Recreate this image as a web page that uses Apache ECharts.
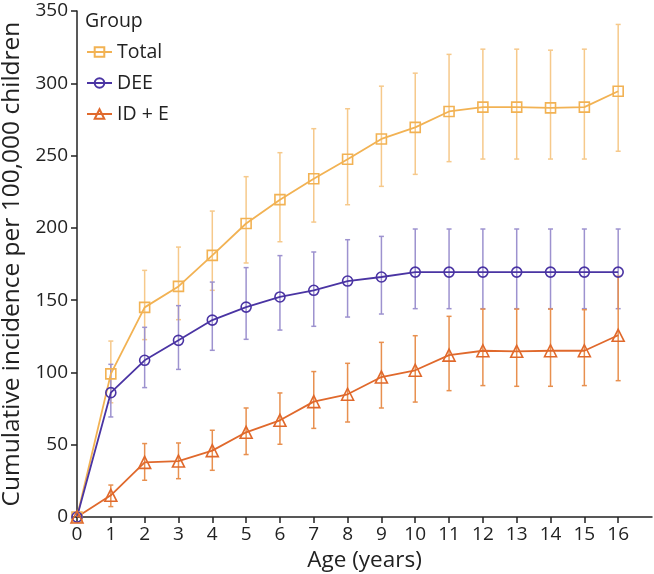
<!DOCTYPE html>
<html>
<head>
<meta charset="utf-8">
<script src="https://cdn.jsdelivr.net/npm/echarts@6/dist/echarts.min.js"></script>
<style>html,body{margin:0;padding:0;background:#fff}#c{width:654px;height:574px}</style>
</head>
<body>
<div id="c"></div>
<script>
const ages = [0,1,2,3,4,5,6,7,8,9,10,11,12,13,14,15,16];
const xTicks = [0,1,2,3,4,5,6,7,8,9,10,11,12,13,14,15,16];
const yTicks = [0,50,100,150,200,250,300,350];

const totalVals = [0,99,145,159.5,181,203,219.5,234,247.5,261.5,269.5,280.5,283.5,283.5,283,283.5,294.5];
const totalLow  = [0,79,122.7,136.5,156.8,175.7,190.4,204,216,228.7,237,245.8,247.6,247.6,247.6,247.6,253];
const totalHigh = [0,121.7,170.6,186.7,211.6,235.4,252,268.6,282.4,298,307,320,323.6,323.6,322.9,323.6,340.7];

const deeVals = [0,86,108.4,122.2,136.2,145.2,152.2,156.8,163.2,166,169.4,169.4,169.4,169.4,169.4,169.4,169.4];
const deeLow  = [0,69.2,89.5,102.1,115.3,122.9,129.3,131.9,138.3,140.4,144.1,144.1,144.1,144.1,144.1,144.1,144.1];
const deeHigh = [0,105.6,131.2,146.2,162.5,172.5,180.8,183.3,191.8,194.1,199.2,199.2,199.2,199.2,199.2,199.2,199.2];

const ideVals = [0,15,37.8,38.7,45.9,58.6,66.9,79.8,84.9,96.8,101.5,112,115,114.6,115,115,125.7];
const ideLow  = [0,7.2,25.4,26.5,32.3,43.2,50.3,61.3,65.7,75.4,79.5,87.4,90.9,90.4,90.4,90.9,94.3];
const ideHigh = [0,22.1,50.8,51.2,60,75.4,85.8,100.6,106.3,120.8,125.4,138.8,143.8,143.8,143.8,143.4,166.5];

const seriesNames = ['Total','DEE','ID + E'];
const lineColors = ['#F2B253','#4A34A3','#E0692C'];
const barColors = ['#F6C98B','#9D92CF','#E8904F'];
const symbols = ['rect','circle','triangle'];
const symbolSizes = [10,10,12];

const vals = [totalVals, deeVals, ideVals];
const lows = [totalLow, deeLow, ideLow];
const highs = [totalHigh, deeHigh, ideHigh];

const FONT = '"Open Sans", "Noto Sans", sans-serif';

function errSeries(k) {
  const color = barColors[k];
  return {
    type: 'custom',
    name: seriesNames[k] + ' err',
    z: 1,
    silent: true,
    data: ages.map((a, i) => [a, lows[k][i], highs[k][i]]).filter(d => d[2] > d[1]),
    renderItem: function (params, api) {
      const x = api.value(0);
      const p1 = api.coord([x, api.value(1)]);
      const p2 = api.coord([x, api.value(2)]);
      const w = 2.5;
      const st = { stroke: color, lineWidth: 1.5 };
      return {
        type: 'group',
        children: [
          { type: 'line', shape: { x1: p1[0], y1: p1[1], x2: p2[0], y2: p2[1] }, style: st },
          { type: 'line', shape: { x1: p1[0] - w, y1: p1[1], x2: p1[0] + w, y2: p1[1] }, style: st },
          { type: 'line', shape: { x1: p2[0] - w, y1: p2[1], x2: p2[0] + w, y2: p2[1] }, style: st }
        ]
      };
    }
  };
}

function lineSeries(k) {
  return {
    type: 'line',
    name: seriesNames[k],
    z: 3,
    data: ages.map((a, i) => [a, vals[k][i]]),
    symbol: symbols[k],
    symbolSize: symbolSizes[k],
    showAllSymbol: true,
    lineStyle: { color: lineColors[k], width: 1.8 },
    itemStyle: { color: 'rgba(255,255,255,0)', borderColor: lineColors[k], borderWidth: 1.6 },
    emphasis: { disabled: true },
    animation: false
  };
}

const chart = echarts.init(document.getElementById('c'), null, { renderer: 'canvas' });
chart.setOption({
  animation: false,
  backgroundColor: '#fff',
  textStyle: { fontFamily: FONT },
  title: {
    text: 'Group',
    left: 85, top: 11, padding: 0,
    textStyle: { fontFamily: FONT, fontSize: 19.5, fontWeight: 'normal', color: '#222' }
  },
  legend: {
    data: seriesNames,
    orient: 'vertical',
    left: 86, top: 42, padding: 0,
    itemWidth: 25, itemHeight: 12,
    itemGap: 11,
    textStyle: { fontFamily: FONT, fontSize: 19.5, color: '#222', padding: [0, 0, 0, 0] },
    inactiveColor: '#ccc'
  },
  grid: { left: 77, right: 2, top: 11, bottom: 57, containLabel: false, outerBoundsMode: 'none' },
  xAxis: {
    type: 'value',
    min: 0, max: 17, interval: 1,
    name: 'Age (years)',
    nameLocation: 'middle',
    nameGap: 29,
    nameTextStyle: { fontFamily: FONT, fontSize: 22.5, color: '#222' },
    axisLine: { onZero: false, lineStyle: { color: '#222', width: 1.5 } },
    axisTick: { show: true, length: 6, lineStyle: { color: '#222', width: 1.5 }, customValues: xTicks },
    axisLabel: { fontFamily: FONT, fontSize: 19, color: '#222', margin: 8, customValues: xTicks },
    splitLine: { show: false }
  },
  yAxis: {
    type: 'value',
    min: 0, max: 350, interval: 50,
    name: 'Cumulative incidence per 100,000 children',
    nameLocation: 'middle',
    nameGap: 52,
    nameTextStyle: { fontFamily: FONT, fontSize: 24.5, color: '#222' },
    axisLine: { show: true, lineStyle: { color: '#222', width: 1.5 } },
    axisTick: { show: true, length: 6, lineStyle: { color: '#222', width: 1.5 }, customValues: yTicks },
    axisLabel: { fontFamily: FONT, fontSize: 19, color: '#222', margin: 9, customValues: yTicks },
    splitLine: { show: false }
  },
  series: [errSeries(0), errSeries(1), errSeries(2), lineSeries(0), lineSeries(1), lineSeries(2)]
});
</script>
</body>
</html>
